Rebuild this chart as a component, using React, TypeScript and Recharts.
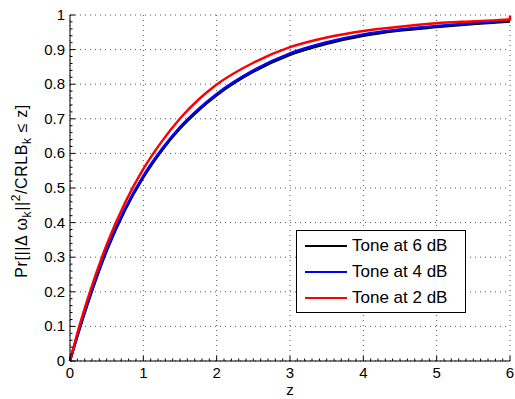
import React from 'react';
import { LineChart, Line, XAxis, YAxis, ReferenceLine } from 'recharts';

const zValues = [0, 0.1, 0.25, 0.5, 0.75, 1, 1.25, 1.5, 1.75, 2, 2.5, 3, 3.5, 4, 4.5, 5, 5.5, 6, 6];
const tone6 = [0, 0.071, 0.171, 0.318, 0.436, 0.531, 0.608, 0.672, 0.724, 0.768, 0.836, 0.885, 0.917, 0.940, 0.955, 0.965, 0.974, 0.981, 0.981];
const tone4 = [0, 0.074, 0.175, 0.322, 0.440, 0.535, 0.612, 0.676, 0.728, 0.772, 0.840, 0.889, 0.921, 0.944, 0.958, 0.968, 0.977, 0.984, 0.984];
const tone2 = [0, 0.080, 0.185, 0.336, 0.457, 0.555, 0.634, 0.701, 0.755, 0.799, 0.862, 0.907, 0.935, 0.954, 0.966, 0.976, 0.982, 0.988, 0.998];

const xMajor = [0, 1, 2, 3, 4, 5, 6];
const yMajor = [0, 0.1, 0.2, 0.3, 0.4, 0.5, 0.6, 0.7, 0.8, 0.9, 1];
const xMinor = Array.from({ length: 61 }, (_, i) => Math.round(i * 10) / 100);
const yMinor = Array.from({ length: 51 }, (_, i) => Math.round(i * 2) / 100);

const series = [
  { key: 'tone6', name: 'Tone at 6 dB', color: '#000000' },
  { key: 'tone4', name: 'Tone at 4 dB', color: '#0000ff' },
  { key: 'tone2', name: 'Tone at 2 dB', color: '#ff0000' },
];

const data = zValues.map((z, i) => ({ z, tone6: tone6[i], tone4: tone4[i], tone2: tone2[i] }));

const font = 'Arial, "Liberation Sans", Helvetica, sans-serif';

const isMajor = (v: number, list: number[]) => list.some((m) => Math.abs(m - v) < 1e-6);

function XTick(props: any) {
  const { x, y, payload } = props;
  const major = isMajor(payload.value, xMajor);
  return (
    <g>
      <line x1={x} x2={x} y1={y} y2={y - (major ? 5 : 2.5)} stroke="#000" strokeWidth={1} />
      {major && (
        <text x={x} y={y + 17} textAnchor="middle" fontSize={15} fontFamily={font} fill="#000">
          {payload.value}
        </text>
      )}
    </g>
  );
}

function YTick(props: any) {
  const { x, y, payload } = props;
  const major = isMajor(payload.value, yMajor);
  return (
    <g>
      <line x1={x} x2={x + (major ? 5 : 2.5)} y1={y} y2={y} stroke="#000" strokeWidth={1} />
      {major && (
        <text x={x - 5} y={y + 5} textAnchor="end" fontSize={15} fontFamily={font} fill="#000">
          {payload.value}
        </text>
      )}
    </g>
  );
}

function YLabel() {
  return (
    <text transform="translate(27,191) rotate(-90)" textAnchor="middle" fontSize={16} letterSpacing={0.6} fontFamily={font} fill="#000">
      <tspan>Pr[||Δ ω</tspan>
      <tspan fontSize={12} dy={4}>k</tspan>
      <tspan dy={-4}>||</tspan>
      <tspan fontSize={12} dy={-7}>2</tspan>
      <tspan dy={7}>/CRLB</tspan>
      <tspan fontSize={12} dy={4}>k</tspan>
      <tspan dy={-4}> ≤ z]</tspan>
    </text>
  );
}

export default function App() {
  return (
    <div style={{ position: 'absolute', left: 0, top: 0, width: 515, height: 399, background: '#fff' }}>
      <LineChart width={515} height={399} data={data} margin={{ top: 15, right: 5, bottom: 0, left: 0 }}>
        {xMajor.map((v) => (
          <ReferenceLine key={'gx' + v} x={v} stroke="#555" strokeDasharray="1 4" />
        ))}
        {yMajor.map((v) => (
          <ReferenceLine key={'gy' + v} y={v} stroke="#555" strokeDasharray="1 4" />
        ))}
        <XAxis
          dataKey="z"
          type="number"
          domain={[0, 6]}
          ticks={xMinor}
          interval={0}
          height={38}
          tickSize={0}
          tickMargin={0}
          tickLine={false}
          tick={<XTick />}
          axisLine={{ stroke: '#000' }}
          label={{ value: 'z', position: 'insideBottom', offset: 4, fontSize: 15, fontFamily: font, fill: '#000' }}
        />
        <YAxis
          type="number"
          domain={[0, 1]}
          ticks={yMinor}
          interval={0}
          width={70}
          tickSize={0}
          tickMargin={0}
          tickLine={false}
          tick={<YTick />}
          axisLine={{ stroke: '#000' }}
          label={{ content: () => <YLabel /> }}
        />
        {series.map((s) => (
          <Line
            key={s.key}
            dataKey={s.key}
            name={s.name}
            type="monotone"
            stroke={s.color}
            strokeWidth={2.5}
            dot={false}
            isAnimationActive={false}
          />
        ))}
      </LineChart>
      <div
        style={{
          position: 'absolute',
          left: 296,
          top: 230,
          width: 170,
          height: 83,
          border: '1px solid #000',
          background: '#fff',
          fontFamily: font,
          fontSize: 17,
          boxSizing: 'border-box',
        }}
      >
        {series.map((s, i) => (
          <div key={s.key} style={{ position: 'absolute', left: 8, top: 4 + i * 26, height: 22, display: 'flex', alignItems: 'center' }}>
            <div style={{ width: 42, height: 2.5, background: s.color }} />
            <span style={{ marginLeft: 5, color: '#000', whiteSpace: 'nowrap' }}>{s.name}</span>
          </div>
        ))}
      </div>
    </div>
  );
}
